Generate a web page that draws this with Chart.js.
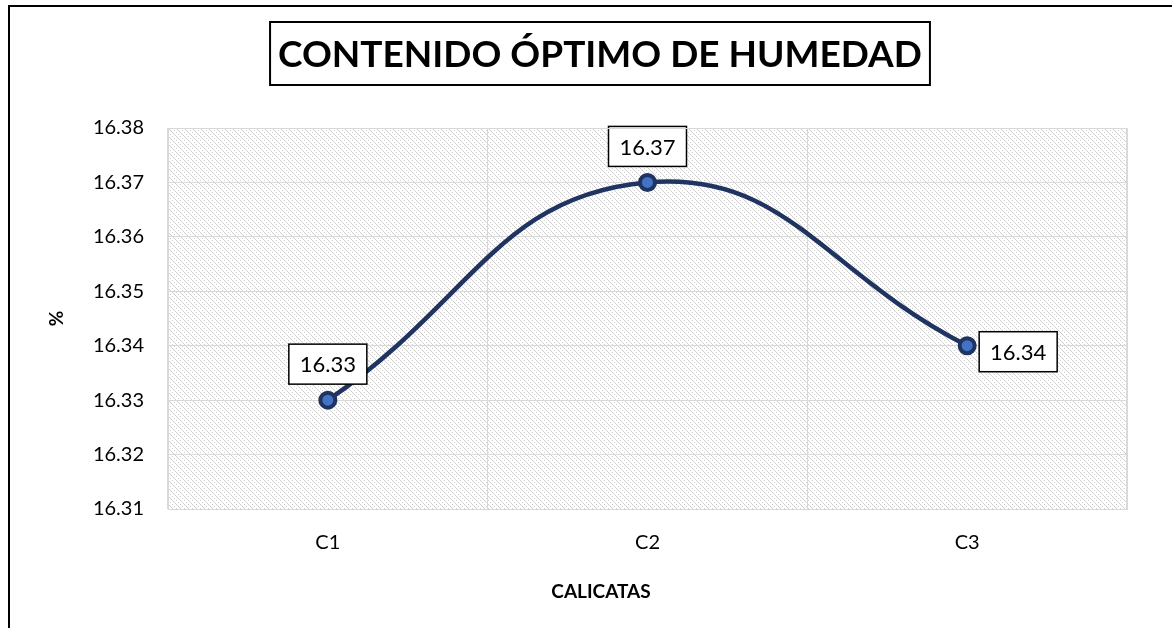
<!DOCTYPE html>
<html>
<head>
<meta charset="utf-8">
<script src="https://cdn.jsdelivr.net/npm/chart.js@4.4.0/dist/chart.umd.min.js"></script>
<style>
  html, body { margin: 0; padding: 0; background: #fff; }
  #wrap { width: 1172px; height: 628px; }
</style>
</head>
<body>
<div id="wrap"><canvas id="chart" width="1172" height="628"></canvas></div>
<script>
// data
const categories = ['C1', 'C2', 'C3'];
const humedad = [16.33, 16.37, 16.34];
const yMin = 16.31, yMax = 16.38, yStep = 0.01;
const titleText = 'CONTENIDO ÓPTIMO DE HUMEDAD';
const xTitle = 'CALICATAS';
const yTitle = '%';

// where each value box goes relative to its point
const labelPlace = ['above', 'above', 'right'];

const FONT = 'Lato';

function makePattern(ctx) {
  const c = document.createElement('canvas');
  c.width = 8; c.height = 8;
  const p = c.getContext('2d');
  p.fillStyle = '#ffffff';
  p.fillRect(0, 0, 8, 8);
  p.fillStyle = '#cfcfcf';
  for (let y = 0; y < 8; y += 2) {
    p.fillRect(y % 8, y, 1, 1);
    p.fillRect((y + 4) % 8, y, 1, 1);
    p.fillRect((y + 1) % 8, y + 1, 1, 1);
  }
  return ctx.createPattern(c, 'repeat');
}

const decor = {
  id: 'decor',
  beforeDraw(chart) {
    const ctx = chart.ctx;
    const a = chart.chartArea;
    ctx.save();
    // outer frame (only top and left edges show)
    ctx.strokeStyle = '#000';
    ctx.lineWidth = 2;
    ctx.beginPath();
    ctx.moveTo(9, 628);
    ctx.lineTo(9, 6);
    ctx.lineTo(1172, 6);
    ctx.stroke();
    // hatched plot area
    ctx.fillStyle = makePattern(ctx);
    ctx.fillRect(a.left, a.top, a.right - a.left, a.bottom - a.top);
    ctx.restore();
  },
  afterDraw(chart) {
    const ctx = chart.ctx;
    const a = chart.chartArea;
    ctx.save();
    // plot border
    ctx.strokeStyle = '#d9d9d9';
    ctx.lineWidth = 1;
    ctx.strokeRect(a.left + 0.5, a.top + 0.5, a.right - a.left - 1, a.bottom - a.top);
    // boxed title
    ctx.font = 'bold 37px ' + FONT;
    ctx.textAlign = 'center';
    ctx.textBaseline = 'middle';
    ctx.fillStyle = '#000';
    const cx = 600, cy = 55;
    ctx.fillText(titleText, cx, cy);
    const w = ctx.measureText(titleText).width;
    ctx.lineWidth = 2;
    ctx.strokeStyle = '#000';
    ctx.strokeRect(cx - w / 2 - 8, 22, w + 16, 63);
    // x axis title (sits left of the plot centre, like the original)
    ctx.font = 'bold 19px ' + FONT;
    ctx.fillText(xTitle, 601, 592);
    ctx.restore();
  },
  afterDatasetsDraw(chart) {
    const ctx = chart.ctx;
    const meta = chart.getDatasetMeta(0);
    ctx.save();
    ctx.font = '22px ' + FONT;
    ctx.textAlign = 'center';
    ctx.textBaseline = 'middle';
    meta.data.forEach((pt, i) => {
      const txt = humedad[i].toFixed(2);
      const bw = 78, bh = 40;
      let bx, by;
      if (labelPlace[i] == 'right') {
        bx = pt.x + 12; by = pt.y - 14;
      } else {
        bx = pt.x - bw / 2; by = pt.y - 56;
      }
      ctx.fillStyle = '#fff';
      ctx.fillRect(bx, by, bw, bh);
      ctx.strokeStyle = '#000';
      ctx.lineWidth = 1.5;
      ctx.strokeRect(bx, by, bw, bh);
      ctx.fillStyle = '#000';
      ctx.fillText(txt, bx + bw / 2, by + bh / 2 + 1);
    });
    ctx.restore();
  }
};

new Chart(document.getElementById('chart'), {
  type: 'line',
  data: {
    labels: categories,
    datasets: [{
      data: humedad,
      borderColor: '#1f3461',
      borderWidth: 4.5,
      tension: 0.45,
      fill: false,
      pointRadius: 7.5,
      pointBorderWidth: 4,
      pointBackgroundColor: '#4472c4',
      pointBorderColor: '#1f3461'
    }]
  },
  options: {
    responsive: false,
    animation: false,
    layout: { padding: { top: 128, left: 10, right: 45, bottom: 0 } },
    plugins: {
      legend: { display: false },
      title: { display: false },
      tooltip: { enabled: false }
    },
    scales: {
      x: {
        offset: true,
        afterFit(s) { s.height = 119; },
        grid: { offset: true, color: '#d9d9d9', drawTicks: false },
        border: { color: '#d9d9d9' },
        ticks: { color: '#000', padding: 22, font: { family: FONT, size: 20 } }
      },
      y: {
        min: yMin,
        max: yMax,
        afterFit(s) { s.width = 158; },
        grid: { color: '#d9d9d9', drawTicks: false },
        border: { color: '#d9d9d9' },
        ticks: {
          stepSize: yStep, color: '#000', padding: 24,
          font: { family: FONT, size: 20 },
          callback: v => v.toFixed(2)
        },
        title: {
          display: true, text: yTitle, color: '#000',
          font: { family: FONT, size: 19, weight: 'bold' },
          padding: { top: 35, bottom: 0 }
        }
      }
    }
  },
  plugins: [decor]
});
</script>
</body>
</html>
